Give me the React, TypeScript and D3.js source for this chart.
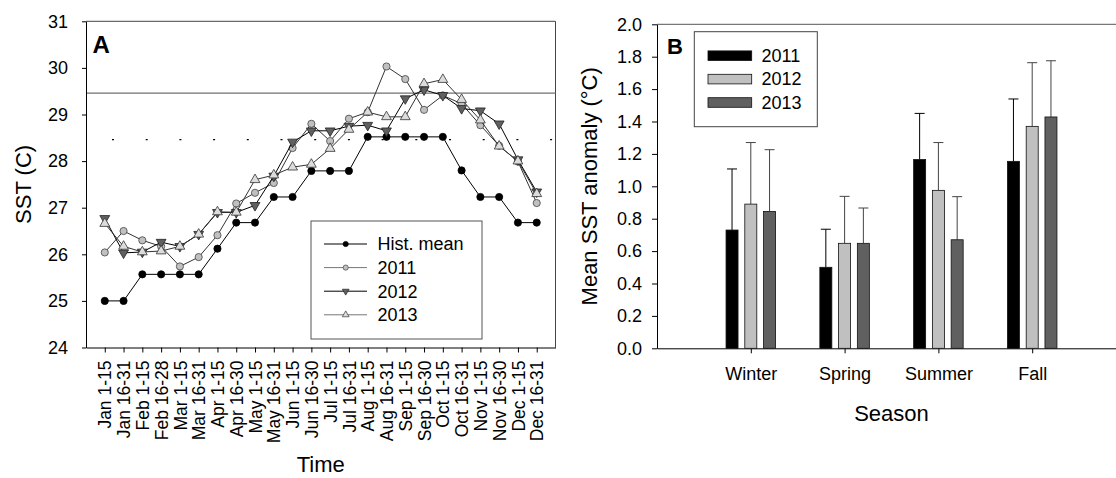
import React, { useEffect, useRef } from "react";
import * as d3 from "d3";

// Panel A: half-month periods and SST series
const periods = [
  "Jan 1-15", "Jan 16-31", "Feb 1-15", "Feb 16-28", "Mar 1-15", "Mar 16-31",
  "Apr 1-15", "Apr 16-30", "May 1-15", "May 16-31", "Jun 1-15", "Jun 16-30",
  "Jul 1-15", "Jul 16-31", "Aug 1-15", "Aug 16-31", "Sep 1-15", "Sep 16-30",
  "Oct 1-15", "Oct 16-31", "Nov 1-15", "Nov 16-30", "Dec 1-15", "Dec 16-31",
];
const histMean = [25.0, 25.0, 25.57, 25.57, 25.57, 25.57, 26.12, 26.68, 26.68, 27.23, 27.23, 27.79,
  27.79, 27.79, 28.52, 28.52, 28.52, 28.52, 28.52, 27.8, 27.23, 27.23, 26.68, 26.68];
const sst2011 = [26.04, 26.5, 26.3, 26.17, 25.74, 25.94, 26.41, 27.09, 27.32, 27.53, 28.28, 28.8,
  28.43, 28.91, 29.05, 30.03, 29.76, 29.1, 29.41, 29.23, 28.77, 28.33, 27.99, 27.1];
const sst2012 = [26.77, 26.03, 26.05, 26.26, 26.17, 26.43, 26.9, 26.9, 27.05, 27.68, 28.41, 28.65,
  28.65, 28.75, 28.77, 28.65, 29.34, 29.53, 29.41, 29.13, 29.08, 28.8, 28.03, 27.34];
const sst2013 = [26.66, 26.17, 26.05, 26.07, 26.17, 26.43, 26.91, 26.9, 27.6, 27.7, 27.87, 27.93,
  28.27, 28.68, 29.05, 28.95, 28.95, 29.66, 29.75, 29.32, 28.88, 28.32, 28.0, 27.3];
const sstTicks = [24, 25, 26, 27, 28, 29, 30, 31];
const solidRef = 29.46;
const dottedRef = 28.46;

// Panel B: seasonal anomalies
const seasons = ["Winter", "Spring", "Summer", "Fall"];
const years = ["2011", "2012", "2013"];
const anomaly2011 = [0.73, 0.5, 1.165, 1.154];
const anomaly2012 = [0.89, 0.648, 0.975, 1.37];
const anomaly2013 = [0.845, 0.648, 0.67, 1.428];
const error2011 = [0.377, 0.235, 0.285, 0.385];
const error2012 = [0.38, 0.29, 0.295, 0.393];
const error2013 = [0.381, 0.218, 0.266, 0.347];
const anomalyTicks = [0, 0.2, 0.4, 0.6, 0.8, 1.0, 1.2, 1.4, 1.6, 1.8, 2.0];

const FONT = "'Liberation Sans', Arial, sans-serif";

const App: React.FC = () => {
  const svgRef = useRef<SVGSVGElement>(null);

  useEffect(() => {
    document.body.style.margin = "0";
    const svg = d3.select(svgRef.current);
    svg.selectAll("*").remove();

    // ---------- Panel A ----------
    const xA = d3.scaleLinear().domain([-1, 24]).range([86, 555.5]);
    const yA = d3.scaleLinear().domain([24, 31]).range([347.5, 21.3]);
    const a = svg.append("g");

    // frame top/right
    a.append("path")
      .attr("d", `M${xA(-1)},${yA(31)}H${xA(24)}V${yA(24)}`)
      .attr("fill", "none").attr("stroke", "#444").attr("stroke-width", 1);

    // reference lines
    a.append("line")
      .attr("x1", xA(-1)).attr("x2", xA(24))
      .attr("y1", yA(solidRef)).attr("y2", yA(solidRef))
      .attr("stroke", "#707070").attr("stroke-width", 1.2);
    a.append("line")
      .attr("x1", xA(-1)).attr("x2", xA(24))
      .attr("y1", yA(dottedRef)).attr("y2", yA(dottedRef))
      .attr("stroke", "#000").attr("stroke-width", 1.2)
      .attr("stroke-dasharray", "2,31.7").attr("stroke-dashoffset", 7.7);

    const yAxisA = a.append("g").attr("transform", `translate(${xA(-1)},0)`)
      .call(d3.axisLeft(yA).tickValues(sstTicks).tickFormat(d3.format("d"))
        .tickSize(4).tickPadding(14).tickSizeOuter(0));
    yAxisA.selectAll("text").style("font-size", "18px").style("font-family", FONT);

    const xAxisA = a.append("g").attr("transform", `translate(0,${yA(24)})`)
      .call(d3.axisBottom(xA).tickValues(d3.range(0, 24))
        .tickFormat((i) => periods[i as number]).tickSize(5).tickSizeOuter(0));
    xAxisA.selectAll("text")
      .style("font-size", "17.5px").style("font-family", FONT)
      .style("text-anchor", "end")
      .attr("x", -13).attr("y", 0).attr("dy", "0.35em")
      .attr("transform", "rotate(-90)");
    a.selectAll(".domain").attr("stroke", "#000");

    const line = d3.line<number>().x((_, i) => xA(i)).y((d) => yA(d));
    const triUp = d3.symbol().type(d3.symbolTriangle).size(42)();
    const triUpSmall = d3.symbol().type(d3.symbolTriangle).size(20)();

    const seriesA = [
      { name: "Hist. mean", data: histMean, lineColor: "#000", marker: "circle", fill: "#000", stroke: "#000" },
      { name: "2011", data: sst2011, lineColor: "#333", marker: "circle", fill: "#c0c0c0", stroke: "#444" },
      { name: "2012", data: sst2012, lineColor: "#000", marker: "down", fill: "#606060", stroke: "#222" },
      { name: "2013", data: sst2013, lineColor: "#333", marker: "up", fill: "#dcdcdc", stroke: "#333" },
    ];

    seriesA.forEach((s) => {
      a.append("path").attr("d", line(s.data) as string)
        .attr("fill", "none").attr("stroke", s.lineColor).attr("stroke-width", 1);
      const g = a.append("g");
      s.data.forEach((v, i) => {
        if (s.marker === "circle") {
          g.append("circle").attr("cx", xA(i)).attr("cy", yA(v)).attr("r", 3.6)
            .attr("fill", s.fill).attr("stroke", s.stroke).attr("stroke-width", 0.8);
        } else {
          g.append("path").attr("d", triUp as string)
            .attr("transform", `translate(${xA(i)},${yA(v)})${s.marker === "down" ? " rotate(180)" : ""}`)
            .attr("fill", s.fill).attr("stroke", s.stroke).attr("stroke-width", 0.8);
        }
      });
    });

    // legend A
    const legA = a.append("g");
    legA.append("rect").attr("x", 311).attr("y", 221).attr("width", 171).attr("height", 118)
      .attr("fill", "#fff").attr("stroke", "#555").attr("stroke-width", 1);
    seriesA.forEach((s, i) => {
      const cy = 244 + i * 23.6;
      legA.append("line").attr("x1", 324).attr("x2", 367).attr("y1", cy).attr("y2", cy)
        .attr("stroke", i % 2 === 1 ? "#777" : "#000").attr("stroke-width", 1);
      if (s.marker === "circle") {
        legA.append("circle").attr("cx", 345.7).attr("cy", cy).attr("r", 2.6)
          .attr("fill", s.fill).attr("stroke", s.stroke).attr("stroke-width", 0.7);
      } else {
        legA.append("path").attr("d", triUpSmall as string)
          .attr("transform", `translate(345.7,${cy})${s.marker === "down" ? " rotate(180)" : ""}`)
          .attr("fill", s.fill).attr("stroke", s.stroke).attr("stroke-width", 0.7);
      }
      legA.append("text").attr("x", 377.5).attr("y", cy).attr("dy", "0.35em")
        .style("font-size", "18px").style("font-family", FONT).text(s.name);
    });

    a.append("text").attr("x", 92.5).attr("y", 52.5)
      .style("font-size", "24px").style("font-weight", "bold").style("font-family", FONT).text("A");
    a.append("text").attr("transform", `translate(31,${(yA(24) + yA(31)) / 2}) rotate(-90)`)
      .attr("text-anchor", "middle").style("font-size", "22px").style("font-family", FONT).text("SST (C)");
    a.append("text").attr("x", (xA(-1) + xA(24)) / 2).attr("y", 472)
      .attr("text-anchor", "middle").style("font-size", "22px").style("font-family", FONT).text("Time");

    // ---------- Panel B ----------
    const xB = d3.scaleLinear().domain([0, 5]).range([657, 1126]);
    const yB = d3.scaleLinear().domain([0, 2]).range([348.3, 24.3]);
    const b = svg.append("g");

    b.append("line").attr("x1", xB(0)).attr("x2", xB(5)).attr("y1", yB(2)).attr("y2", yB(2))
      .attr("stroke", "#777").attr("stroke-width", 1.2);

    const yAxisB = b.append("g").attr("transform", `translate(${xB(0)},0)`)
      .call(d3.axisLeft(yB).tickValues(anomalyTicks).tickFormat(d3.format(".1f"))
        .tickSize(5).tickPadding(10).tickSizeOuter(0));
    yAxisB.selectAll("text").style("font-size", "18px").style("font-family", FONT);

    const xAxisB = b.append("g").attr("transform", `translate(0,${yB(0)})`)
      .call(d3.axisBottom(xB).tickValues([1, 2, 3, 4])
        .tickFormat((i) => seasons[(i as number) - 1]).tickSize(5).tickPadding(13.5).tickSizeOuter(0));
    xAxisB.selectAll("text").style("font-size", "18px").style("font-family", FONT);

    const barColors = ["#000", "#c0c0c0", "#606060"];
    const errColors = ["#000", "#444", "#444"];
    const means = [anomaly2011, anomaly2012, anomaly2013];
    const errors = [error2011, error2012, error2013];
    const barW = xB(0.128) - xB(0);

    means.forEach((vals, j) => {
      vals.forEach((v, i) => {
        const cx = xB(i + 1 + (j - 1) * 0.2);
        const top = yB(v + errors[j][i]);
        b.append("line").attr("x1", cx).attr("x2", cx).attr("y1", yB(v)).attr("y2", top)
          .attr("stroke", errColors[j]).attr("stroke-width", 1);
        b.append("line").attr("x1", cx - 5).attr("x2", cx + 5).attr("y1", top).attr("y2", top)
          .attr("stroke", errColors[j]).attr("stroke-width", 1);
        b.append("rect").attr("x", cx - barW / 2).attr("y", yB(v))
          .attr("width", barW).attr("height", yB(0) - yB(v))
          .attr("fill", barColors[j]).attr("stroke", "#111").attr("stroke-width", 0.8);
      });
    });

    // legend B
    const legB = b.append("g");
    legB.append("rect").attr("x", 694.3).attr("y", 31.7).attr("width", 123).attr("height", 95)
      .attr("fill", "#fff").attr("stroke", "#444").attr("stroke-width", 1);
    years.forEach((yr, j) => {
      const cy = 55.7 + j * 23.4;
      legB.append("rect").attr("x", 708).attr("y", cy - 4.8).attr("width", 43.7).attr("height", 9.6)
        .attr("fill", barColors[j]).attr("stroke", "#111").attr("stroke-width", 0.8);
      legB.append("text").attr("x", 761.5).attr("y", cy).attr("dy", "0.35em")
        .style("font-size", "18px").style("font-family", FONT).text(yr);
    });

    b.append("text").attr("x", 667).attr("y", 54.3)
      .style("font-size", "22px").style("font-weight", "bold").style("font-family", FONT).text("B");
    b.append("text").attr("transform", `translate(596.5,${(yB(0) + yB(2)) / 2}) rotate(-90)`)
      .attr("text-anchor", "middle").style("font-size", "22px").style("font-family", FONT)
      .text("Mean SST anomaly (°C)");
    b.append("text").attr("x", (xB(0) + xB(5)) / 2).attr("y", 420.5)
      .attr("text-anchor", "middle").style("font-size", "22px").style("font-family", FONT).text("Season");

    return () => {
      svg.selectAll("*").remove();
    };
  }, []);

  return (
    <svg ref={svgRef} width={1116} height={478}
      style={{ display: "block", background: "#fff", fontFamily: FONT }} />
  );
};

export default App;
